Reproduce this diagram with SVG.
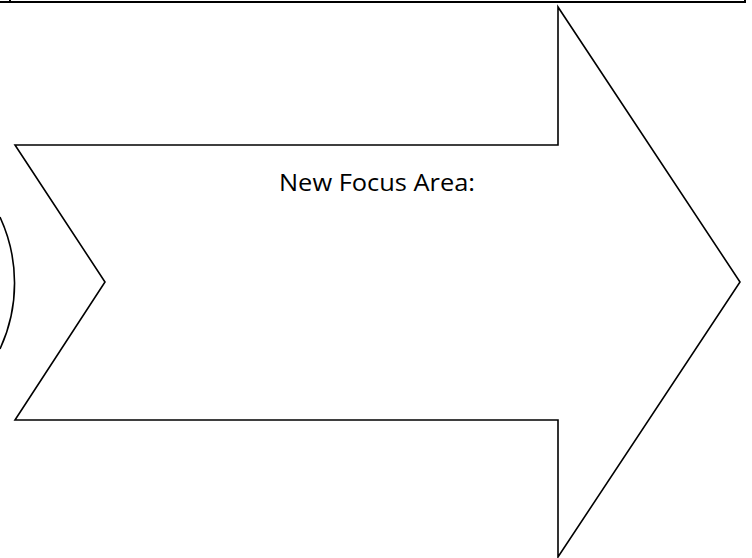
<svg xmlns="http://www.w3.org/2000/svg" width="752" height="558" viewBox="0 0 752 558">
<style>
.ln{fill:none;stroke:#000;stroke-width:1.6}
.lbl{font-family:"Open Sans","Liberation Sans",sans-serif;font-size:24px;fill:#000}
</style>
<rect width="752" height="558" fill="#fff"/>
<g id="frame">
<path class="ln" d="M0,2 H745 V0 M10,0 V2" style="stroke-width:2"/>
</g>
<g id="arc">
<path class="ln" d="M0,217 A157,157 0 0 1 0,349"/>
</g>
<g id="arrow">
<path class="ln" d="M15,145 L558,145 L558,7 L740,282 L558,557 L558,420 L15,420 L105,282 Z"/>
<text class="lbl" x="279" y="191" textLength="196" lengthAdjust="spacingAndGlyphs">New Focus Area:</text>
</g>
<g id="connectors"></g>
</svg>
